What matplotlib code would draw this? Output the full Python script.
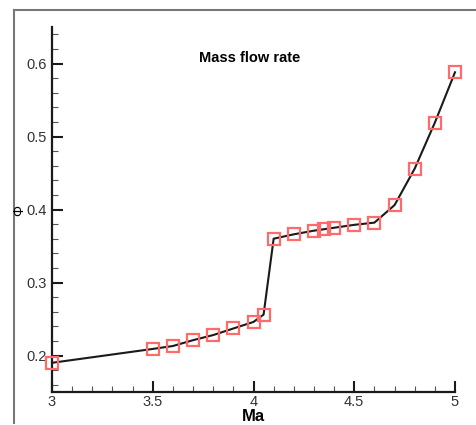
import matplotlib
matplotlib.use('Agg')
import matplotlib.pyplot as plt
from matplotlib.ticker import MultipleLocator
from matplotlib.lines import Line2D

plt.rcParams['font.family'] = ['Liberation Sans', 'DejaVu Sans']

# Mach number vs mass flow rate coefficient
ma = [3.0, 3.5, 3.6, 3.7, 3.8, 3.9, 4.0, 4.05, 4.1, 4.2, 4.3, 4.35, 4.4, 4.5, 4.6, 4.7, 4.8, 4.9, 5.0]
phi = [0.190, 0.209, 0.213, 0.221, 0.228, 0.237, 0.246, 0.256, 0.360, 0.366, 0.371, 0.373, 0.375, 0.379, 0.382, 0.406, 0.456, 0.519, 0.588]

fig = plt.figure(figsize=(4.76, 4.25), dpi=100)
ax = fig.add_axes([52/476, 33/425, 403/476, 365/425])

ax.plot(ma, phi, color='#1a1a1a', lw=1.5, zorder=2, clip_on=False)
ax.plot(ma, phi, ls='none', marker='s', ms=9, mfc='none', mec='#ff6b6b', mew=1.6,
        zorder=3, clip_on=False)

ax.set_xlim(3, 5)
ax.set_ylim(0.15, 0.65)
ax.xaxis.set_minor_locator(MultipleLocator(0.1))
ax.yaxis.set_minor_locator(MultipleLocator(0.02))
ax.set_xticks([3, 3.5, 4, 4.5, 5])
ax.set_xticklabels(['3', '3.5', '4', '4.5', '5'])
ax.set_yticks([0.2, 0.3, 0.4, 0.5, 0.6])
ax.set_yticklabels(['0.2', '0.3', '0.4', '0.5', '0.6'])

for s in ['top', 'right']:
    ax.spines[s].set_visible(False)
for s in ['left', 'bottom']:
    ax.spines[s].set_linewidth(1.6)
    ax.spines[s].set_color('#1a1a1a')

ax.tick_params(which='major', direction='in', length=8, width=1.5, labelsize=10.5,
               labelcolor='#333333', color='#1a1a1a', pad=4)
ax.tick_params(axis='x', which='major', pad=2.5)
ax.tick_params(which='minor', direction='in', length=4, width=0.8, color='#555555')

# axis titles
fig.text(253/476, 1 - 416.5/425, 'Ma', fontsize=12, fontweight='bold', ha='center', va='center')
ax.text(0.49, 0.915, 'Mass flow rate', transform=ax.transAxes, fontsize=10.5,
        fontweight='bold', ha='center', va='center')
fig.text(19/476, 1 - 210/425, '\u03a6', rotation=90, fontsize=10, ha='center', va='center')

# outer frame lines
fig.add_artist(Line2D([14/476, 14/476], [1 - 10/425, 1 - 423/425], color='#777777', lw=1.5))
fig.add_artist(Line2D([14/476, 475/476], [1 - 10/425, 1 - 10/425], color='#777777', lw=1.5))

fig.savefig('out.png', dpi=100)
